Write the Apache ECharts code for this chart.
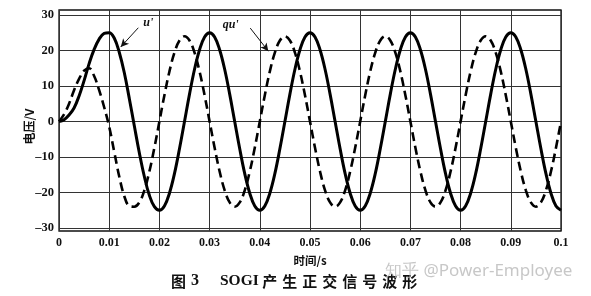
<!DOCTYPE html>
<html>
<head>
<meta charset="utf-8">
<script src="https://cdn.jsdelivr.net/npm/echarts@6/dist/echarts.min.js"></script>
<style>html,body{margin:0;padding:0;background:#fff;}#c{width:591px;height:296px;}</style>
</head>
<body>
<div id="c"></div>
<script>
// time samples (s), 1 ms step
const times = Array.from({length: 101}, (_, i) => i / 1000);
// u' (solid), V
const uPrime = [
  0, 0.5, 1.8, 3.8, 7.2, 11.5, 16.3, 20.3, 23.2, 24.8, 25,
  23.5, 19.5, 13.8, 6.5, -1.2, -8.8, -15.5, -20.8, -24, -25,
  -23.8, -20.2, -14.7, -7.7, 0, 7.7, 14.7, 20.2, 23.8, 25,
  23.8, 20.2, 14.7, 7.7, 0, -7.7, -14.7, -20.2, -23.8, -25,
  -23.8, -20.2, -14.7, -7.7, 0, 7.7, 14.7, 20.2, 23.8, 25,
  23.8, 20.2, 14.7, 7.7, 0, -7.7, -14.7, -20.2, -23.8, -25,
  -23.8, -20.2, -14.7, -7.7, 0, 7.7, 14.7, 20.2, 23.8, 25,
  23.8, 20.2, 14.7, 7.7, 0, -7.7, -14.7, -20.2, -23.8, -25,
  -23.8, -20.2, -14.7, -7.7, 0, 7.7, 14.7, 20.2, 23.8, 25,
  23.8, 20.2, 14.7, 7.7, 0, -7.7, -14.7, -20.2, -23.8, -25
];
// qu' (dashed), V
const quPrime = [
  0, 2, 5, 8.8, 12, 14.3, 15, 12.8, 8.8, 4, -1.5,
  -8.5, -15.5, -21, -23.8, -24, -22.8, -19.4, -14.1, -7.4, 0,
  7.4, 14.1, 19.4, 22.8, 24, 22.8, 19.4, 14.1, 7.4, 0,
  -7.4, -14.1, -19.4, -22.8, -24, -22.8, -19.4, -14.1, -7.4, 0,
  7.4, 14.1, 19.4, 22.8, 24, 22.8, 19.4, 14.1, 7.4, 0,
  -7.4, -14.1, -19.4, -22.8, -24, -22.8, -19.4, -14.1, -7.4, 0,
  7.4, 14.1, 19.4, 22.8, 24, 22.8, 19.4, 14.1, 7.4, 0,
  -7.4, -14.1, -19.4, -22.8, -24, -22.8, -19.4, -14.1, -7.4, 0,
  7.4, 14.1, 19.4, 22.8, 24, 22.8, 19.4, 14.1, 7.4, 0,
  -7.4, -14.1, -19.4, -22.8, -24, -22.8, -19.4, -14.1, -7.4, 0
];
const yTicks = [-30, -20, -10, 0, 10, 20, 30];
const xTickLabels = ['0', '0.01', '0.02', '0.03', '0.04', '0.05', '0.06', '0.07', '0.08', '0.09', '0.1'];
// annotation anchors in data coordinates
const uLabel = {text: "u'", at: [0.0178, 27.8], arrowFrom: [0.0158, 26.4], arrowTo: [0.0123, 21]};
const quLabel = {text: "qu'", at: [0.0342, 27.2], arrowFrom: [0.0381, 26.3], arrowTo: [0.0417, 19.8]};

const uData = times.map((t, i) => [t, uPrime[i]]);
const quData = times.map((t, i) => [t, quPrime[i]]);

const serif = 'Liberation Serif';
const cjk = 'Noto Sans CJK SC';
const chars = '产生正交信号波形'.split('');
const titleText = '{a|图}{g1| }{n|3}{g2| }{s|SOGI}{g3| }' + chars.map(c => '{c|' + c + '}').join('');

function annot(a) {
  return {
    markLine: {
      silent: true, animation: false,
      symbol: ['none', 'arrow'], symbolSize: [6, 8],
      lineStyle: {color: '#111', width: 1, type: 'solid'},
      label: {show: false},
      data: [[{coord: a.arrowFrom}, {coord: a.arrowTo}]]
    },
    markPoint: {
      silent: true, animation: false,
      symbol: 'circle', symbolSize: 1,
      itemStyle: {color: 'rgba(0,0,0,0)'},
      label: {show: true, position: 'inside', formatter: a.text, color: '#111',
        fontFamily: serif, fontStyle: 'italic', fontWeight: 'bold', fontSize: 12},
      data: [{coord: a.at}]
    }
  };
}

const chart = echarts.init(document.getElementById('c'), null, {renderer: 'canvas'});
chart.setOption({
  animation: false,
  backgroundColor: '#fff',
  title: [{
    text: titleText,
    left: 166, top: 268,
    textStyle: {
      rich: {
        a: {fontFamily: cjk, fontWeight: 'bold', fontSize: 15, color: '#111'},
        g1: {fontSize: 15, width: 5},
        n: {fontFamily: serif, fontWeight: 'bold', fontSize: 16, color: '#111'},
        g2: {fontSize: 15, width: 21},
        s: {fontFamily: serif, fontWeight: 'bold', fontSize: 15.5, color: '#111'},
        g3: {fontSize: 15, width: 1},
        c: {fontFamily: cjk, fontWeight: 'bold', fontSize: 15, color: '#111', width: 20, align: 'center'}
      }
    }
  }, {
    text: '知乎 @Power-Employee',
    left: 380, top: 258,
    textStyle: {fontFamily: 'Noto Sans', fontWeight: 'normal', fontSize: 17, color: 'rgba(175,175,175,0.7)'}
  }],
  grid: {left: 59, right: 30, top: 10, bottom: 65, show: true, borderColor: '#111', borderWidth: 1.3, backgroundColor: 'transparent'},
  xAxis: {
    type: 'value', min: 0, max: 0.1, interval: 0.01,
    name: '时间/s', nameLocation: 'middle', nameGap: 24, nameMoveOverlap: false,
    nameTextStyle: {fontFamily: cjk, fontWeight: 'bold', fontSize: 11.5, color: '#111'},
    axisLine: {show: false, onZero: false},
    axisTick: {show: false},
    axisLabel: {margin: 6, fontFamily: serif, fontWeight: 'bold', fontSize: 12, color: '#111',
      showMinLabel: true, showMaxLabel: true,
      formatter: (v) => xTickLabels[Math.round(v * 100)]},
    splitLine: {show: true, lineStyle: {color: '#333', width: 1}}
  },
  yAxis: {
    type: 'value', min: -30.85, max: 31.4,
    name: '电压/V', nameLocation: 'middle', nameGap: 24, nameMoveOverlap: false,
    nameTextStyle: {fontFamily: cjk, fontWeight: 'bold', fontSize: 12, color: '#111', padding: [0, 12, 0, 0]},
    axisLine: {show: false},
    axisTick: {show: false, customValues: yTicks},
    axisLabel: {margin: 5, fontFamily: serif, fontWeight: 'bold', fontSize: 12.5, color: '#111',
      customValues: yTicks,
      formatter: (v) => (v < 0 ? '\u2013' + (-v) : String(v))},
    splitLine: {show: true, lineStyle: {color: '#333', width: 1}}
  },
  series: [
    Object.assign({
      name: "u'", type: 'line', data: uData, smooth: 0.4, showSymbol: false, symbol: 'none',
      lineStyle: {color: '#000', width: 3}, z: 3
    }, annot(uLabel)),
    Object.assign({
      name: "qu'", type: 'line', data: quData, smooth: 0.4, showSymbol: false, symbol: 'none',
      lineStyle: {color: '#000', width: 2.6, type: [9, 5]}, z: 2
    }, annot(quLabel))
  ]
});
</script>
</body>
</html>
